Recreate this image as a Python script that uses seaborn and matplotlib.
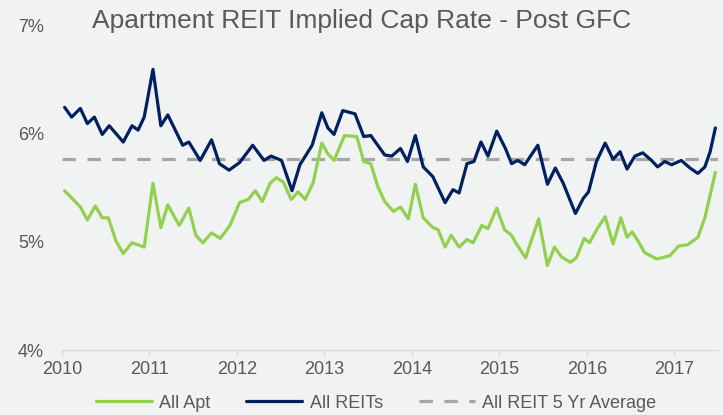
import numpy as np
import pandas as pd
import matplotlib
matplotlib.use("Agg")
import matplotlib.pyplot as plt
from matplotlib.lines import Line2D
import seaborn as sns

# All REITs implied cap rate (%)
reit_t = [2010.03, 2010.11, 2010.21, 2010.29, 2010.37, 2010.46, 2010.54, 2010.70, 2010.80, 2010.87,
          2010.94, 2011.04, 2011.13, 2011.21, 2011.38, 2011.45, 2011.58, 2011.71, 2011.80, 2011.91,
          2012.03, 2012.18, 2012.31, 2012.39, 2012.51, 2012.63, 2012.72, 2012.86, 2012.97, 2013.04,
          2013.11, 2013.21, 2013.35, 2013.45, 2013.53, 2013.69, 2013.77, 2013.87, 2013.95, 2014.04,
          2014.13, 2014.24, 2014.38, 2014.47, 2014.54, 2014.63, 2014.71, 2014.79, 2014.87, 2014.97,
          2015.07, 2015.14, 2015.21, 2015.29, 2015.44, 2015.55, 2015.64, 2015.73, 2015.87, 2015.96,
          2016.02, 2016.11, 2016.21, 2016.30, 2016.38, 2016.46, 2016.55, 2016.64, 2016.74, 2016.81,
          2016.89, 2016.97, 2017.08, 2017.18, 2017.27, 2017.35, 2017.41, 2017.47]
reit_val = [6.24, 6.15, 6.23, 6.09, 6.15, 5.99, 6.07, 5.92, 6.07, 6.03,
            6.15, 6.59, 6.07, 6.17, 5.89, 5.92, 5.75, 5.94, 5.72, 5.66,
            5.73, 5.89, 5.75, 5.79, 5.75, 5.47, 5.71, 5.89, 6.19, 6.05,
            5.99, 6.21, 6.18, 5.97, 5.98, 5.80, 5.79, 5.86, 5.74, 5.98,
            5.69, 5.60, 5.36, 5.48, 5.45, 5.72, 5.74, 5.92, 5.79, 6.02,
            5.86, 5.72, 5.75, 5.71, 5.89, 5.53, 5.68, 5.54, 5.26, 5.40,
            5.46, 5.74, 5.91, 5.76, 5.83, 5.67, 5.79, 5.82, 5.75, 5.69,
            5.74, 5.71, 5.75, 5.68, 5.63, 5.69, 5.83, 6.05]

# All Apartment REITs implied cap rate (%)
apt_t = [2010.03, 2010.21, 2010.29, 2010.38, 2010.46, 2010.53, 2010.62, 2010.70, 2010.80, 2010.94,
         2011.04, 2011.13, 2011.21, 2011.34, 2011.45, 2011.53, 2011.61, 2011.71, 2011.81, 2011.92,
         2012.03, 2012.13, 2012.21, 2012.29, 2012.38, 2012.45, 2012.53, 2012.62, 2012.70, 2012.78,
         2012.87, 2012.97, 2013.04, 2013.11, 2013.23, 2013.37, 2013.45, 2013.53, 2013.61, 2013.69,
         2013.79, 2013.87, 2013.96, 2014.04, 2014.13, 2014.24, 2014.30, 2014.38, 2014.45, 2014.54,
         2014.63, 2014.70, 2014.80, 2014.87, 2014.97, 2015.06, 2015.14, 2015.18, 2015.30, 2015.37,
         2015.45, 2015.55, 2015.63, 2015.71, 2015.81, 2015.88, 2015.97, 2016.03, 2016.12, 2016.21,
         2016.30, 2016.39, 2016.46, 2016.52, 2016.59, 2016.66, 2016.80, 2016.95, 2017.05, 2017.15,
         2017.27, 2017.35, 2017.41, 2017.47]
apt_val = [5.47, 5.32, 5.20, 5.33, 5.22, 5.22, 5.00, 4.89, 4.99, 4.95,
           5.54, 5.13, 5.34, 5.15, 5.31, 5.06, 4.99, 5.08, 5.03, 5.15,
           5.36, 5.39, 5.47, 5.37, 5.54, 5.59, 5.55, 5.39, 5.46, 5.39,
           5.54, 5.91, 5.81, 5.75, 5.98, 5.97, 5.74, 5.72, 5.51, 5.37,
           5.28, 5.32, 5.21, 5.53, 5.22, 5.13, 5.11, 4.95, 5.06, 4.95,
           5.02, 4.99, 5.15, 5.12, 5.31, 5.11, 5.06, 5.00, 4.85, 5.02,
           5.21, 4.78, 4.95, 4.86, 4.81, 4.85, 5.03, 4.99, 5.12, 5.23,
           4.98, 5.22, 5.04, 5.09, 5.00, 4.90, 4.84, 4.87, 4.96, 4.97,
           5.04, 5.22, 5.43, 5.64]

avg_5yr = 5.76
year_ticks = [2010, 2011, 2012, 2013, 2014, 2015, 2016, 2017]
pct_ticks = [4, 5, 6, 7]

bg = "#f1f2f2"
green = "#92d050"
navy = "#002060"
grey = "#a6a6a6"
text_grey = "#595959"

sns.set_theme(style="white")
plt.rcParams['font.family'] = ['Liberation Sans', 'DejaVu Sans']

df = pd.concat([
    pd.DataFrame({'year': apt_t, 'rate': apt_val, 'series': 'All Apt'}),
    pd.DataFrame({'year': reit_t, 'rate': reit_val, 'series': 'All REITs'}),
])

fig = plt.figure(figsize=(7.23, 4.15), dpi=100, facecolor=bg)
ax = fig.add_axes([62 / 723, 1 - 350 / 415, (718 - 62) / 723, 325 / 415])
ax.set_facecolor(bg)

ax.axhline(avg_5yr, color=grey, lw=2.3, dashes=(4.2, 3.6))
sns.lineplot(data=df, x='year', y='rate', hue='series',
             palette={'All Apt': green, 'All REITs': navy},
             estimator=None, linewidth=2.3, legend=False, ax=ax)
for ln in ax.get_lines():
    ln.set_solid_joinstyle('round')
    ln.set_solid_capstyle('round')

ax.set_xlim(2010, 2017.5)
ax.set_ylim(4, 7)
ax.set_xticks(year_ticks)
ax.set_xticklabels([str(y) for y in year_ticks])
ax.set_yticks(pct_ticks)
ax.set_yticklabels([f"{p}%" for p in pct_ticks])
ax.set_xlabel("")
ax.set_ylabel("")

for s in ['top', 'right', 'left']:
    ax.spines[s].set_visible(False)
ax.spines['bottom'].set_color('#d9d9d9')
ax.spines['bottom'].set_linewidth(1)
ax.tick_params(axis='x', colors=text_grey, labelsize=13, length=4, width=1,
               direction='out', pad=4, color='#d9d9d9', bottom=True)
ax.tick_params(axis='y', colors=text_grey, labelsize=13, length=0, pad=13)
ax.grid(False)

fig.text(362 / 723, 1 - 21 / 415, "Apartment REIT Implied Cap Rate - Post GFC",
         ha='center', va='center', fontsize=19, color=text_grey)

handles = [Line2D([], [], color=green, lw=2.3),
           Line2D([], [], color=navy, lw=2.3),
           Line2D([], [], color=grey, lw=2.3, dashes=(4.2, 3.6))]
fig.legend(handles, ['All Apt', 'All REITs', 'All REIT 5 Yr Average'],
           loc='center', bbox_to_anchor=(376 / 723, 1 - 403 / 415), ncol=3,
           frameon=False, fontsize=13, handlelength=3.1, handletextpad=0.4,
           columnspacing=2.0, labelcolor=text_grey)

fig.savefig("out.png", dpi=100, facecolor=bg)
